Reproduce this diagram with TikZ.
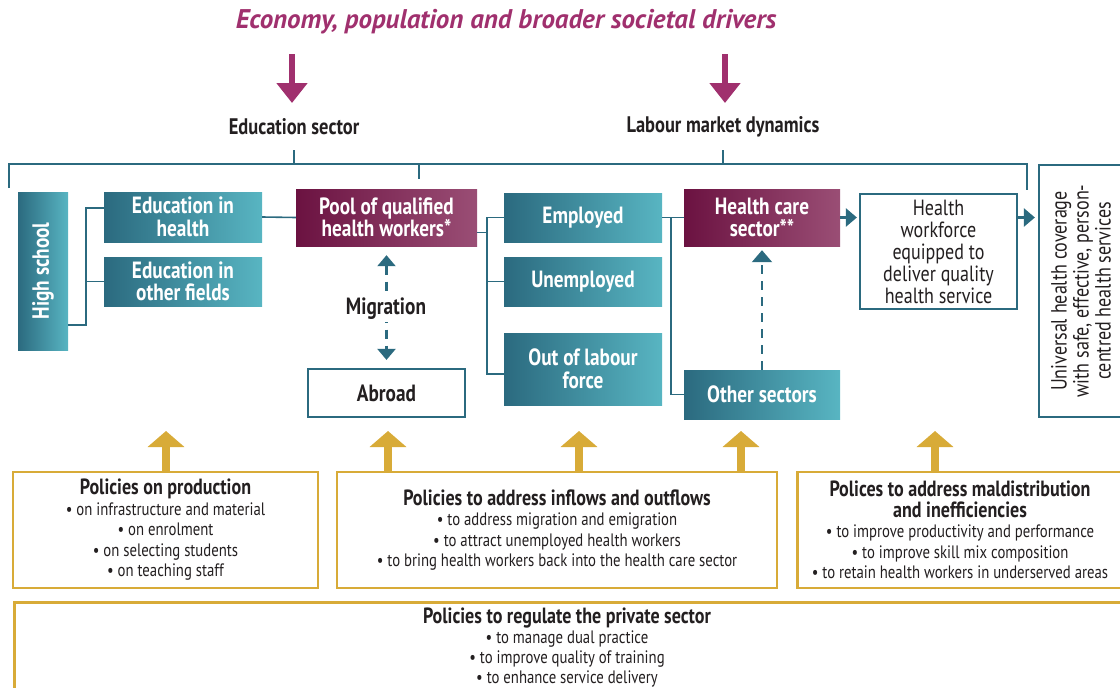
\documentclass[tikz,border=0pt]{standalone}
\usepackage{fontspec}
\setmainfont{PT Sans}[FakeStretch=0.82]
\newfontfamily\driverfamily{PT Sans}
\usetikzlibrary{arrows.meta, positioning}

\definecolor{tealdark}{HTML}{2B6A7F}
\definecolor{teallight}{HTML}{58B5C2}
\definecolor{plumdark}{HTML}{6B1241}
\definecolor{plumlight}{HTML}{9A4E75}
\definecolor{drivers}{HTML}{A0306E}
\definecolor{gold}{HTML}{D8AB38}
\definecolor{ink}{HTML}{231F20}

\newcommand{\boxfont}{\bfseries\fontsize{23.5}{22.5}\selectfont}
\newcommand{\openfont}{\fontsize{22}{22}\selectfont}
\newcommand{\headfont}{\bfseries\fontsize{22.5}{24}\selectfont}
\newcommand{\polhead}{\bfseries\fontsize{22}{21.5}\selectfont}
\newcommand{\polbody}{\fontsize{18}{20.5}\selectfont}

\begin{document}
\begin{tikzpicture}[
    x=1pt, y=-1pt,
    link/.style={draw=tealdark, line width=1.6pt},
    tealbox/.style={left color=tealdark, right color=teallight,
        text=white, font=\boxfont, align=center, inner sep=0pt},
    plumbox/.style={left color=plumdark, right color=plumlight,
        text=white, font=\boxfont, align=center, inner sep=0pt},
    openbox/.style={draw=tealdark, line width=2.2pt, fill=white,
        text=ink, align=center, inner sep=0pt},
    policy/.style={draw=gold, line width=2.6pt, fill=white,
        text=ink, align=center, inner sep=0pt, font=\polbody},
    drive/.style={draw=drivers, line width=6pt,
        -{Triangle[width=30pt,length=20pt]}},
    lift/.style={draw=gold, line width=8pt,
        -{Triangle[width=36pt,length=16pt]}},
    flow/.style={draw=tealdark, line width=2.5pt,
        -{Triangle[width=18pt,length=11pt]}},
    mig/.style={draw=tealdark, line width=2.2pt, dash pattern=on 9pt off 7pt}]
    \useasboundingbox (0,0) rectangle (1120,688);

    \node[font=\driverfamily\bfseries\itshape\fontsize{27}{28}\selectfont, text=drivers]
        (title) at (506,22) {Economy, population and broader societal drivers};
    \node[font=\headfont, text=ink] (edusec) at (294,127) {Education sector};
    \node[font=\headfont, text=ink] (labour) at (723,127) {Labour market dynamics};
    \coordinate (d1) at (292,54);
    \coordinate (d2) at (725,54);
    \draw[drive] (d1) -- (d1 |- 0,103);
    \draw[drive] (d2) -- (d2 |- 0,103);

    \coordinate (b1) at (9,188);
    \coordinate (b2) at (1027,190);
    \draw[link] (b1) |- (b2 |- 0,164) -- (b2);
    \draw[link] (294,150) -- (294,164);
    \draw[link] (723,150) -- (723,164);
    \draw[link] (419,164) -- (419,179);

    \node[tealbox, rotate=90, minimum width=158, minimum height=50,
        left color=tealdark, right color=teallight] (hs) at (43,271) {High school};
    \node[tealbox, minimum width=158, minimum height=50] (eh) at (183,217)
        {Education in\\health};
    \node[tealbox, minimum width=158, minimum height=49] (eo) at (183,281.5)
        {Education in\\other fields};
    \node[plumbox, minimum width=181, minimum height=57] (pool) at (386.5,217.5)
        {Pool of qualified\\health workers*};
    \node[openbox, font=\boxfont, minimum width=157, minimum height=48] (abroad)
        at (386.5,393) {Abroad};
    \node[tealbox, minimum width=158, minimum height=49] (emp) at (583,217.5) {Employed};
    \node[tealbox, minimum width=158, minimum height=49] (unemp) at (583,281.5) {Unemployed};
    \node[tealbox, minimum width=158, minimum height=72] (olf) at (583,369)
        {Out of labour\\force};
    \node[plumbox, minimum width=156, minimum height=57] (hcs) at (762,217.5)
        {Health care\\sector**};
    \node[tealbox, minimum width=156, minimum height=49] (oth) at (762,394.5)
        {Other sectors};
    \node[openbox, font=\openfont, minimum width=157, minimum height=115] (hwf)
        at (938.5,251.5) {Health\\workforce\\equipped to\\deliver quality\\health service};
    \node[openbox, font=\openfont, rotate=90, minimum width=252, minimum height=84] (uhc)
        at (1081,291) {Universal health coverage\\with safe, effective, person-\\centred health services};

    \draw[link] ([yshift=25pt]hs.south west) -- ++(18,0) |- ([yshift=9pt]eh.west);
    \draw[link] (eo.west) -- ++(-18,0);
    \draw[link] (eh.east) -- (pool.west);
    \draw[link] ([yshift=-15pt]pool.east) -- ++(10,0) coordinate (lm);
    \draw[link] (emp.west) -| (lm) |- ([yshift=-5pt]olf.west);
    \draw[link] (unemp.west) -- (unemp.west -| lm);
    \draw[link] (emp.east) -- (hcs.west);
    \draw[link] ([xshift=9pt]emp.east) |- (oth.west);
    \draw[mig, {Triangle[width=18pt,length=11pt]}-{Triangle[width=18pt,length=11pt]},
        shorten <=9pt, shorten >=8pt] (pool) -- (abroad);
    \node[fill=white, font=\boxfont, text=ink, inner sep=2pt] (migr) at (386,309) {Migration};
    \draw[mig, -{Triangle[width=20pt,length=12pt]}, shorten >=4pt] (oth) -- (hcs);
    \draw[flow] (hcs.east) -- ([xshift=-2pt]hwf.west |- hcs.east);
    \draw[flow] (hwf.east |- hcs.east) -- ([xshift=-3pt]uhc.north |- hcs.east);

    \node[policy, minimum width=305, minimum height=116] (pprod) at (165.5,530)
        {{\polhead Policies on production}\\
         • on infrastructure and material\\
         • on enrolment\\
         • on selecting students\\
         • on teaching staff};
    \node[policy, minimum width=440, minimum height=116] (pflow) at (557,530)
        {{\polhead Policies to address inflows and outflows}\\
         • to address migration and emigration\\
         • to attract unemployed health workers\\
         • to bring health workers back into the health care sector};
    \node[policy, minimum width=325, minimum height=116] (pdist) at (960,530)
        {{\polhead Polices to address maldistribution}\\
         {\polhead and inefficiencies}\\
         • to improve productivity and performance\\
         • to improve skill mix composition\\
         • to retain health workers in underserved areas};
    \node[policy, minimum width=1109, minimum height=100, anchor=north west]
        (preg) at (13,601) {};
    \node[font=\fontsize{18}{20}\selectfont, text=ink, align=center, anchor=north]
        (pregtext) at (567,604)
        {{\polhead Policies to regulate the private sector}\\
         • to manage dual practice\\
         • to improve quality of training\\
         • to enhance service delivery};

    \foreach \x/\b in {166/pprod, 388/pflow, 579/pflow, 741/pflow, 935/pdist}
        \draw[lift] (\b.north -| \x,0) -- (\x,431);
\end{tikzpicture}
\end{document}
